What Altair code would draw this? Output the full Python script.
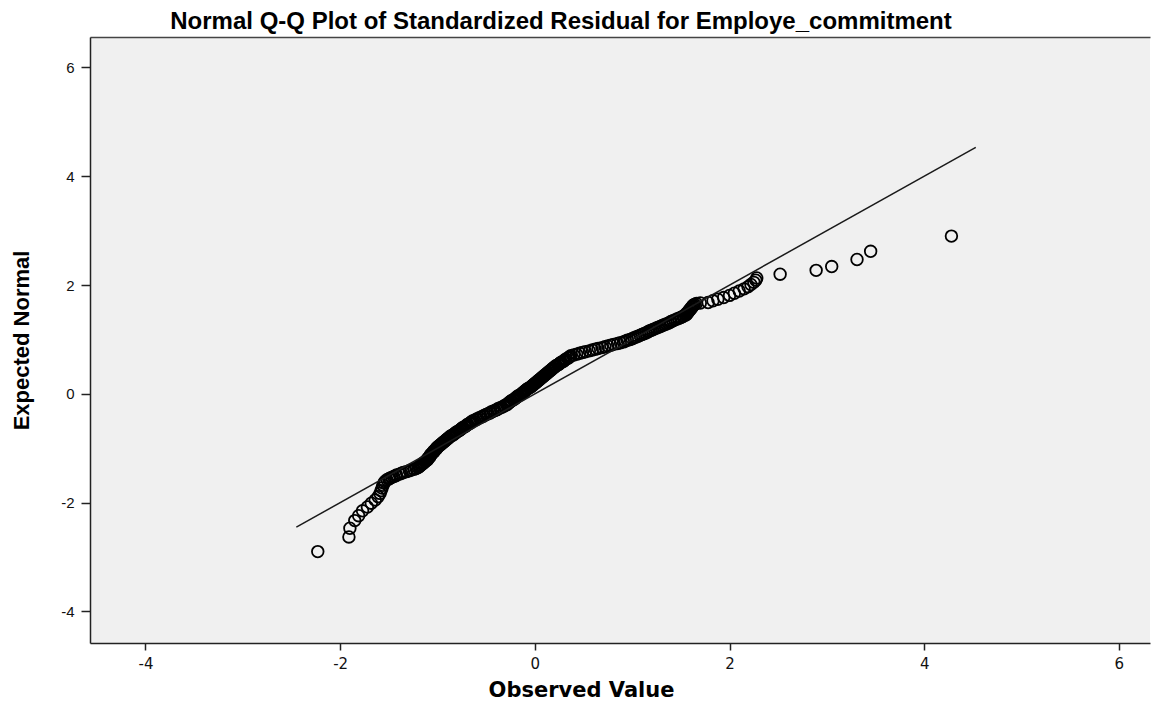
import altair as alt
import pandas as pd

# ---- data ----
# lower tail: separated circles
lower_obs = [-2.23, -1.91, -1.90, -1.85, -1.81, -1.77, -1.72, -1.68, -1.64, -1.61,
             -1.59, -1.58, -1.57, -1.56, -1.55, -1.54]
lower_exp = [-2.90, -2.63, -2.47, -2.33, -2.24, -2.15, -2.08, -2.01, -1.95, -1.89,
             -1.83, -1.78, -1.73, -1.68, -1.64, -1.61]

# dense band of overlapping circles
band_obs = [
    -1.52, -1.50, -1.49, -1.47, -1.45, -1.43, -1.42, -1.39, -1.37, -1.35, -1.32,
    -1.29, -1.27, -1.24, -1.22, -1.20, -1.19, -1.18, -1.17, -1.16, -1.15, -1.14, -1.13, -1.12, -1.11,
    -1.10, -1.10, -1.09, -1.08, -1.08, -1.07, -1.07, -1.06, -1.05, -1.04, -1.04, -1.03, -1.02, -1.01,
    -1.01, -1.00, -0.99, -0.98,
    -0.97, -0.96, -0.95, -0.94, -0.93, -0.92, -0.91, -0.90, -0.89, -0.88, -0.87, -0.86, -0.84, -0.83,
    -0.82, -0.81, -0.80, -0.78, -0.77, -0.76, -0.75, -0.74, -0.72, -0.71, -0.70, -0.69, -0.67, -0.66,
    -0.65, -0.64,
    -0.62, -0.60, -0.59, -0.57, -0.55, -0.53, -0.52, -0.50, -0.48, -0.46, -0.45, -0.43, -0.41, -0.39,
    -0.38, -0.36, -0.34, -0.32, -0.31, -0.29,
    -0.28, -0.27, -0.26, -0.25, -0.24, -0.22, -0.21, -0.20, -0.19, -0.18, -0.17, -0.15, -0.14, -0.13,
    -0.12, -0.11, -0.10, -0.09, -0.08, -0.07, -0.05, -0.04, -0.03, -0.02, -0.01, 0.00, 0.01, 0.02,
    0.03, 0.04, 0.05, 0.06, 0.07, 0.08, 0.09, 0.10, 0.11, 0.12, 0.13, 0.14, 0.15, 0.16, 0.17, 0.18,
    0.19, 0.20, 0.21, 0.22, 0.24, 0.25, 0.26, 0.27, 0.29, 0.30, 0.31, 0.32, 0.34, 0.35, 0.36, 0.37,
    0.40, 0.43, 0.46, 0.49, 0.52, 0.56, 0.59, 0.62, 0.65, 0.69, 0.72, 0.75, 0.78, 0.81, 0.85, 0.88,
    0.91, 0.93, 0.95, 0.98,
    1.00, 1.02, 1.04, 1.06, 1.08, 1.10, 1.12, 1.14, 1.16, 1.17, 1.19, 1.21, 1.23, 1.25, 1.27, 1.29,
    1.31, 1.33, 1.35, 1.37, 1.39, 1.40, 1.42, 1.44, 1.46, 1.48, 1.50, 1.52, 1.53,
    1.55, 1.56, 1.56, 1.57, 1.58, 1.58, 1.59, 1.60, 1.60, 1.61, 1.62, 1.62, 1.63, 1.64, 1.66,
]
band_exp = [
    -1.580, -1.565, -1.550, -1.535, -1.520, -1.505, -1.490, -1.475, -1.460, -1.445, -1.430,
    -1.415, -1.400, -1.385, -1.370, -1.355, -1.340, -1.325, -1.310, -1.295, -1.280, -1.265, -1.250,
    -1.235, -1.220,
    -1.205, -1.190, -1.175, -1.160, -1.145, -1.130, -1.115, -1.100, -1.085, -1.070, -1.055, -1.040,
    -1.025, -1.010, -0.995, -0.980, -0.965, -0.950,
    -0.935, -0.920, -0.905, -0.890, -0.875, -0.860, -0.845, -0.830, -0.815, -0.800, -0.785, -0.770,
    -0.755, -0.740, -0.725, -0.710, -0.695, -0.680, -0.665, -0.650, -0.635, -0.620, -0.605, -0.590,
    -0.575, -0.560, -0.545, -0.530, -0.515, -0.500,
    -0.485, -0.470, -0.455, -0.440, -0.425, -0.410, -0.395, -0.380, -0.365, -0.350, -0.335, -0.320,
    -0.305, -0.290, -0.275, -0.260, -0.245, -0.230, -0.215, -0.200,
    -0.185, -0.170, -0.155, -0.140, -0.125, -0.110, -0.095, -0.080, -0.065, -0.050, -0.035, -0.020,
    -0.005, 0.010, 0.025, 0.040, 0.055, 0.070, 0.085, 0.100, 0.115, 0.130, 0.145, 0.160, 0.175,
    0.190, 0.205, 0.220, 0.235, 0.250, 0.265, 0.280, 0.295, 0.310, 0.325, 0.340, 0.355, 0.370,
    0.385, 0.400, 0.415, 0.430, 0.445, 0.460, 0.475, 0.490, 0.505, 0.520, 0.535, 0.550, 0.565,
    0.580, 0.595, 0.610, 0.625, 0.640, 0.655, 0.670, 0.685, 0.700,
    0.715, 0.730, 0.745, 0.760, 0.775, 0.790, 0.805, 0.820, 0.835, 0.850, 0.865, 0.880, 0.895,
    0.910, 0.925, 0.940, 0.955, 0.970, 0.985, 1.000,
    1.015, 1.030, 1.045, 1.060, 1.075, 1.090, 1.105, 1.120, 1.135, 1.150, 1.165, 1.180, 1.195,
    1.210, 1.225, 1.240, 1.255, 1.270, 1.285, 1.300, 1.315, 1.330, 1.345, 1.360, 1.375, 1.390,
    1.405, 1.420, 1.435,
    1.450, 1.465, 1.480, 1.495, 1.510, 1.525, 1.540, 1.555, 1.570, 1.585, 1.600, 1.615, 1.630,
    1.645, 1.660,
]

# upper tail: separated circles
upper_obs = [1.70, 1.78, 1.83, 1.88, 1.94, 2.00, 2.05, 2.10, 2.15, 2.19, 2.22, 2.25, 2.27, 2.28,
             2.52, 2.89, 3.05, 3.31, 3.45, 4.28]
upper_exp = [1.67, 1.68, 1.71, 1.74, 1.77, 1.81, 1.85, 1.89, 1.93, 1.97, 2.01, 2.05, 2.09, 2.13,
             2.20, 2.27, 2.34, 2.47, 2.62, 2.90]

# reference line y = x
line_x = [-2.45, 4.53]
line_y = [-2.45, 4.53]

ticks = [-4, -2, 0, 2, 4, 6]
x_domain = [-4.57, 6.32]
y_domain = [-4.58, 6.56]

pts = pd.DataFrame({
    "Observed Value": lower_obs + band_obs + upper_obs,
    "Expected Normal": lower_exp + band_exp + upper_exp,
})
ref = pd.DataFrame({"x": line_x, "y": line_y})

xscale = alt.Scale(domain=x_domain, nice=False, zero=False)
yscale = alt.Scale(domain=y_domain, nice=False, zero=False)

x_axis = alt.Axis(
    values=ticks, grid=False, orient="bottom", labelExpr="'' + datum.value",
    domainColor="#222222", domainWidth=1.5,
    tickColor="#222222", tickWidth=1.5, tickSize=7,
    labelFont="DejaVu Sans", labelFontSize=15, labelColor="#111111", labelPadding=6,
    title="Observed Value", titleFont="DejaVu Sans", titleFontWeight="bold",
    titleFontSize=21, titleColor="#000000",
    titleX=491, titleY=47, titleBaseline="middle", titleAlign="center",
)
y_axis = alt.Axis(
    values=ticks, grid=False, labelExpr="'' + datum.value",
    domainColor="#222222", domainWidth=1.5,
    tickColor="#222222", tickWidth=1.5, tickSize=9,
    labelFont="Liberation Sans", labelFontSize=15, labelColor="#111111", labelPadding=7,
    title="Expected Normal", titleFont="Liberation Sans", titleFontWeight="bold",
    titleFontSize=22, titleColor="#000000",
    titleX=-69, titleY=303, titleBaseline="middle", titleAlign="center", titleAngle=270,
)
top_axis = alt.Axis(
    orient="top", labels=False, ticks=False, grid=False, title=None,
    domainColor="#444444", domainWidth=1.5,
)

points = alt.Chart(pts).mark_point(
    shape="circle", filled=False, color="#000000", size=135, strokeWidth=1.8, opacity=1
).encode(
    x=alt.X("Observed Value:Q", scale=xscale, axis=x_axis),
    y=alt.Y("Expected Normal:Q", scale=yscale, axis=y_axis),
)

line = alt.Chart(ref).mark_line(color="#1a1a1a", strokeWidth=1.5).encode(
    x=alt.X("x:Q", scale=xscale, axis=top_axis),
    y=alt.Y("y:Q", scale=yscale, axis=y_axis),
)

chart = alt.layer(points, line).resolve_axis(x="independent").properties(
    width=1060,
    height=606,
    title=alt.TitleParams(
        text="Normal Q-Q Plot of Standardized Residual for Employe_commitment",
        font="Liberation Sans", fontSize=24, fontWeight="bold", color="#000000",
        anchor="middle", dx=-59, offset=3,
    ),
    autosize=alt.AutoSizeParams(type="none"),
    padding={"left": 82, "top": 29, "right": 2, "bottom": 59},
    background="#ffffff",
).configure_view(fill="#f0f0f0", strokeWidth=0)

chart.save("out.html", embed_options={"renderer": "svg", "actions": False})
